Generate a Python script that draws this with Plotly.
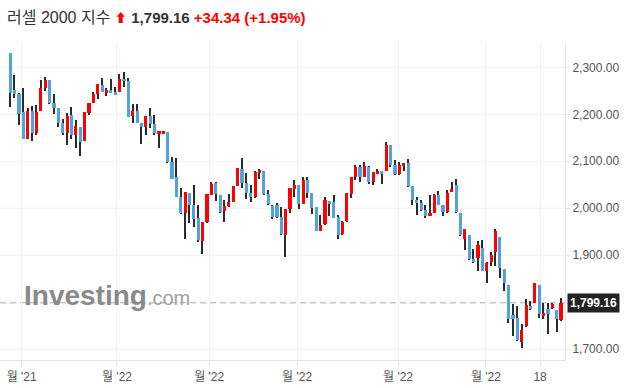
import plotly.graph_objects as go

# Daily OHLC
OPEN = [2330, 2252, 2243, 2205, 2148, 2208, 2161, 2208, 2257, 2273,
        2224, 2213, 2181, 2161, 2199, 2155, 2173, 2144, 2203, 2225,
        2244, 2262, 2246, 2252, 2247, 2248, 2276, 2271, 2197, 2208,
        2181, 2174, 2196, 2179, 2160, 2160, 2162, 2099, 2066, 2024,
        1989, 2032, 2006, 1979, 1931, 1970, 2029, 2054, 2028, 1994,
        2004, 2014, 2048, 2083, 2053, 2032, 2023, 2076, 2079, 2030,
        2004, 2008, 1981, 1943, 1998, 2042, 2050, 2010, 2060, 2032,
        2002, 1952, 1966, 2016, 2013, 1982, 1945, 1972, 2031, 2066,
        2088, 2067, 2088, 2055, 2073, 2079, 2080, 2135, 2092, 2072,
        2091, 2096, 2048, 2018, 2012, 1996, 1984, 1990, 2028, 2006,
        1992, 2035, 2049, 1989, 1935, 1943, 1893, 1894, 1916, 1867,
        1886, 1908, 1938, 1870, 1836, 1774, 1766, 1715, 1749, 1793,
        1799, 1836, 1771, 1786, 1788, 1783, 1763]
HIGH = [2331, 2284, 2245, 2257, 2213, 2218, 2219, 2273, 2279, 2274,
        2243, 2214, 2191, 2202, 2216, 2187, 2174, 2205, 2225, 2248,
        2265, 2277, 2257, 2275, 2259, 2285, 2289, 2277, 2221, 2221,
        2182, 2197, 2213, 2199, 2164, 2165, 2162, 2110, 2106, 2044,
        2035, 2032, 2049, 2008, 1971, 2031, 2055, 2056, 2028, 2018,
        2030, 2048, 2086, 2106, 2075, 2050, 2079, 2083, 2080, 2038,
        2007, 2011, 2002, 1998, 2044, 2060, 2050, 2067, 2067, 2032,
        2003, 1985, 2023, 2016, 2028, 1985, 1972, 2033, 2067, 2092,
        2092, 2098, 2089, 2077, 2084, 2080, 2141, 2135, 2103, 2099,
        2097, 2105, 2048, 2025, 2018, 2006, 2029, 2030, 2036, 2007,
        2038, 2055, 2063, 1990, 1957, 1943, 1913, 1930, 1932, 1885,
        1906, 1955, 1939, 1871, 1837, 1796, 1792, 1754, 1806, 1803,
        1842, 1837, 1799, 1799, 1799, 1783, 1810]
LOW = [2216, 2234, 2177, 2147, 2147, 2144, 2156, 2207, 2250, 2221,
       2201, 2172, 2155, 2134, 2147, 2128, 2111, 2143, 2198, 2224,
       2233, 2247, 2238, 2245, 2241, 2247, 2258, 2194, 2181, 2181,
       2137, 2157, 2170, 2157, 2128, 2159, 2097, 2062, 2024, 1988,
       1934, 1968, 1960, 1928, 1902, 1968, 2028, 2016, 1989, 1971,
       2002, 2013, 2047, 2043, 2020, 2014, 2022, 2062, 2029, 2007,
       1978, 1979, 1944, 1896, 1989, 2024, 1998, 2009, 2021, 1987,
       1951, 1951, 1965, 1984, 1979, 1934, 1944, 1970, 2021, 2060,
       2057, 2066, 2052, 2049, 2072, 2051, 2079, 2087, 2071, 2070,
       2079, 2045, 2007, 1985, 1994, 1979, 1983, 1989, 2006, 1984,
       1991, 2034, 1991, 1941, 1911, 1891, 1883, 1867, 1866, 1842,
       1877, 1877, 1852, 1824, 1757, 1728, 1717, 1703, 1748, 1784,
       1798, 1767, 1764, 1733, 1786, 1737, 1761]
CLOSE = [2246, 2243, 2201, 2148, 2208, 2161, 2205, 2256, 2272, 2223,
         2214, 2182, 2161, 2196, 2155, 2175, 2142, 2204, 2224, 2243,
         2264, 2248, 2252, 2246, 2242, 2275, 2270, 2195, 2208, 2182,
         2174, 2196, 2179, 2161, 2164, 2164, 2098, 2063, 2025, 1989,
         2034, 2006, 1978, 1933, 1971, 2030, 2052, 2031, 1993, 2005,
         2014, 2047, 2085, 2053, 2032, 2023, 2077, 2082, 2030, 2010,
         1981, 1982, 1946, 1998, 2043, 2049, 2010, 2060, 2033, 2001,
         1952, 1964, 2018, 2010, 1980, 1943, 1971, 2033, 2067, 2088,
         2067, 2090, 2055, 2077, 2080, 2073, 2135, 2092, 2072, 2092,
         2096, 2048, 2018, 2012, 1996, 1983, 1989, 2028, 2007, 1992,
         2033, 2040, 1993, 1943, 1957, 1893, 1886, 1921, 1867, 1884,
         1901, 1952, 1874, 1842, 1764, 1764, 1719, 1742, 1795, 1785,
         1842, 1776, 1778, 1776, 1796, 1764.82, 1799.16]

# x-axis ticks (candle positions) and their labels
TICK_POS = [2.6, 24.4, 45.5, 65.6, 88.7, 108.8, 121.2]
TICK_TEXT = ["월 '21", "월 '22", "월 '22", "월 '22", "월 '22", "월 '22", "18"]
Y_TICKS = [1700, 1900, 2000, 2100, 2200, 2300]
Y_GRID = [1700, 1800, 1900, 2000, 2100, 2200, 2300]

UP = "#fe0000"
DOWN = "#52a3db"
WICK = "#2b2b2b"

n = len(CLOSE)
idx = list(range(n))
colors = [UP if c >= o else DOWN for o, c in zip(OPEN, CLOSE)]
last = CLOSE[-1]
chg = CLOSE[-1] - CLOSE[-2]
pct = chg / CLOSE[-2] * 100

fig = go.Figure()
fig.add_trace(go.Bar(
    x=idx, y=[h - l for h, l in zip(HIGH, LOW)], base=LOW,
    width=0.32, marker=dict(color=WICK, line=dict(width=0)),
    hoverinfo="skip", showlegend=False))
fig.add_trace(go.Bar(
    x=idx, y=[max(abs(c - o), 1.2) for o, c in zip(OPEN, CLOSE)],
    base=[min(o, c) for o, c in zip(OPEN, CLOSE)],
    width=0.72, marker=dict(color=colors, line=dict(width=0)),
    showlegend=False))

font_main = "Arial, 'Liberation Sans', 'Noto Sans CJK KR', sans-serif"

fig.update_layout(
    width=627, height=388,
    margin=dict(l=0, r=62, t=43, b=28),
    paper_bgcolor="white", plot_bgcolor="white",
    barmode="overlay", bargap=0,
    font=dict(family=font_main, size=12, color="#555555"),
    xaxis=dict(
        range=[-2.36, 126.9], tickmode="array", tickvals=TICK_POS,
        ticktext=TICK_TEXT, showgrid=True, gridcolor="#f2f2f2", gridwidth=1,
        zeroline=False, showline=True, linecolor="#e3e3e3", linewidth=1,
        ticks="outside", ticklen=6, tickcolor="#e3e3e3",
        tickfont=dict(size=12, color="#555555"), fixedrange=True),
    yaxis=dict(
        side="right", range=[1677.2, 2351.7], tickmode="array",
        tickvals=Y_TICKS, ticktext=[f"{v:,.2f}" for v in Y_TICKS],
        showgrid=False, zeroline=False, showline=True, linecolor="#e3e3e3",
        linewidth=1, ticks="outside", ticklen=4, tickcolor="#e3e3e3",
        tickfont=dict(size=12, color="#555555"), fixedrange=True),
)

# horizontal grid lines
for g in Y_GRID:
    fig.add_shape(type="line", xref="paper", x0=0, x1=1, yref="y", y0=g, y1=g,
                  line=dict(color="#f2f2f2", width=1), layer="below")

# current price dashed line
fig.add_shape(type="line", xref="paper", x0=0, x1=1, yref="y", y0=last, y1=last,
              line=dict(color="#c8c8c8", width=1.5, dash="6px,4px"), layer="below")

# price label box
fig.add_annotation(xref="paper", x=1, xanchor="left", xshift=2, yref="y", y=last,
                   text=f"<b>{last:,.2f}</b>", showarrow=False,
                   font=dict(color="white", size=12, family=font_main),
                   bgcolor="#222222", borderpad=2)

# watermark
fig.add_annotation(xref="paper", x=22 / 565, xanchor="left", yref="paper", y=0.205,
                   yanchor="middle", showarrow=False,
                   text="<b>Investing</b><span style='font-size:20px;color:#a0a0a0'>.com</span>",
                   font=dict(size=28, color="#8a8a8a", family=font_main))

# title
fig.add_annotation(
    xref="paper", x=5 / 565, xanchor="left", yref="paper", y=1.082, yanchor="middle",
    showarrow=False, align="left",
    text=("러셀 2000 지수 <span style='color:#ff0000;font-size:12px'>⬆</span> "
          f"<span style='font-size:15px'><b>{last:,.2f}</b> "
          f"<b><span style='color:#ff0000'>{chg:+.2f}</span></b> "
          f"<b><span style='color:#ff0000'>({pct:+.2f}%)</span></b></span>"),
    font=dict(size=16, color="#333333", family=font_main))

fig.write_html("out.html")
